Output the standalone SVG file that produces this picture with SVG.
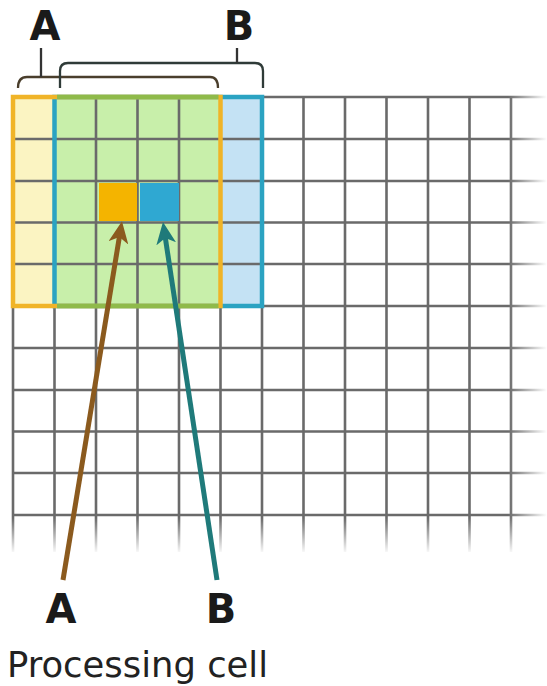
<svg xmlns="http://www.w3.org/2000/svg" width="547" height="686" viewBox="0 0 547 686">
<style>
.grid line{stroke:#6a6a6a;stroke-width:2.6}
.lbl{font-family:"DejaVu Sans",Verdana,sans-serif;font-weight:bold;font-size:40px;fill:#1a1a1a;text-anchor:middle}
.cap{font-family:"DejaVu Sans",Verdana,sans-serif;font-size:35px;fill:#222}
.brace{fill:none;stroke-width:2.3}
</style>
<defs>
<linearGradient id="fadeR" x1="0" y1="0" x2="1" y2="0">
<stop offset="0" stop-color="#fff" stop-opacity="0"/>
<stop offset="1" stop-color="#fff" stop-opacity="1"/>
</linearGradient>
<linearGradient id="fadeB" x1="0" y1="0" x2="0" y2="1">
<stop offset="0" stop-color="#fff" stop-opacity="0"/>
<stop offset="1" stop-color="#fff" stop-opacity="1"/>
</linearGradient>
<marker id="hBrown" markerUnits="userSpaceOnUse" markerWidth="24" markerHeight="20" refX="11" refY="10" orient="auto">
<path d="M0,0 L22,10 L0,20 L6,10 z" fill="#8b5a1e"/>
</marker>
<marker id="hTeal" markerUnits="userSpaceOnUse" markerWidth="24" markerHeight="20" refX="11" refY="10" orient="auto">
<path d="M0,0 L22,10 L0,20 L6,10 z" fill="#1f7a7a"/>
</marker>
</defs>
<rect width="547" height="686" fill="#fff"/>
<g id="region-fills">
<rect x="13" y="97" width="41.5" height="209" fill="#fbf4c2"/>
<rect x="54.5" y="97" width="166" height="209" fill="#c8efaa"/>
<rect x="220.5" y="97" width="41.5" height="209" fill="#c4e2f4"/>
</g>
<g id="grid" class="grid">
<line x1="13" y1="97" x2="13" y2="552"/>
<line x1="54.5" y1="97" x2="54.5" y2="552"/>
<line x1="96" y1="97" x2="96" y2="552"/>
<line x1="137.5" y1="97" x2="137.5" y2="552"/>
<line x1="179" y1="97" x2="179" y2="552"/>
<line x1="220.5" y1="97" x2="220.5" y2="552"/>
<line x1="262" y1="97" x2="262" y2="552"/>
<line x1="303.5" y1="97" x2="303.5" y2="552"/>
<line x1="345" y1="97" x2="345" y2="552"/>
<line x1="386.5" y1="97" x2="386.5" y2="552"/>
<line x1="428" y1="97" x2="428" y2="552"/>
<line x1="469.5" y1="97" x2="469.5" y2="552"/>
<line x1="511" y1="97" x2="511" y2="552"/>
<line x1="13" y1="97" x2="547" y2="97"/>
<line x1="13" y1="139" x2="547" y2="139"/>
<line x1="13" y1="181" x2="547" y2="181"/>
<line x1="13" y1="222.5" x2="547" y2="222.5"/>
<line x1="13" y1="264" x2="547" y2="264"/>
<line x1="13" y1="306" x2="547" y2="306"/>
<line x1="13" y1="348" x2="547" y2="348"/>
<line x1="13" y1="390" x2="547" y2="390"/>
<line x1="13" y1="431.5" x2="547" y2="431.5"/>
<line x1="13" y1="473" x2="547" y2="473"/>
<line x1="13" y1="515" x2="547" y2="515"/>
</g>
<g id="fade">
<rect x="508" y="85" width="39" height="480" fill="url(#fadeR)"/>
<rect x="0" y="518" width="547" height="36" fill="url(#fadeB)"/>
</g>
<g id="window-B">
<rect x="54.5" y="97" width="207.5" height="209" fill="none" stroke="#2ba3c2" stroke-width="4.5"/>
</g>
<g id="window-A">
<rect x="13" y="97" width="207.5" height="209" fill="none" stroke="#f0b428" stroke-width="4.5"/>
<line x1="57" y1="97" x2="218.5" y2="97" stroke="#8fba4a" stroke-width="4.5"/>
<line x1="57" y1="306" x2="218.5" y2="306" stroke="#8fba4a" stroke-width="4.5"/>
</g>
<g id="cell-A">
<rect x="99" y="183" width="38" height="38" fill="#f4b400"/>
</g>
<g id="cell-B">
<rect x="140" y="183" width="39" height="38" fill="#2fa8d2"/>
</g>
<g id="braces">
<path class="brace" stroke="#4a3e2c" d="M18,88 Q18,77 27,77 L210,77 Q218,77 218,88"/>
<line class="brace" stroke="#333" x1="41" y1="48" x2="41" y2="77"/>
<path class="brace" stroke="#2f3b38" d="M60,88 L60,71 Q60,63 68,63 L255,63 Q263,63 263,71 L263,88"/>
<line class="brace" stroke="#333" x1="237" y1="48" x2="237" y2="63"/>
</g>
<g id="connectors">
<line x1="63" y1="580" x2="120.2" y2="232" stroke="#8b5a1e" stroke-width="5" marker-end="url(#hBrown)"/>
<line x1="217" y1="580" x2="164.6" y2="233" stroke="#1f7a7a" stroke-width="5" marker-end="url(#hTeal)"/>
</g>
<g id="labels">
<text class="lbl" x="45" y="40">A</text>
<text class="lbl" x="239" y="40">B</text>
<text class="lbl" x="61" y="623">A</text>
<text class="lbl" x="221" y="623">B</text>
<text class="cap" x="7" y="677" textLength="261" lengthAdjust="spacingAndGlyphs">Processing cell</text>
</g>
</svg>
